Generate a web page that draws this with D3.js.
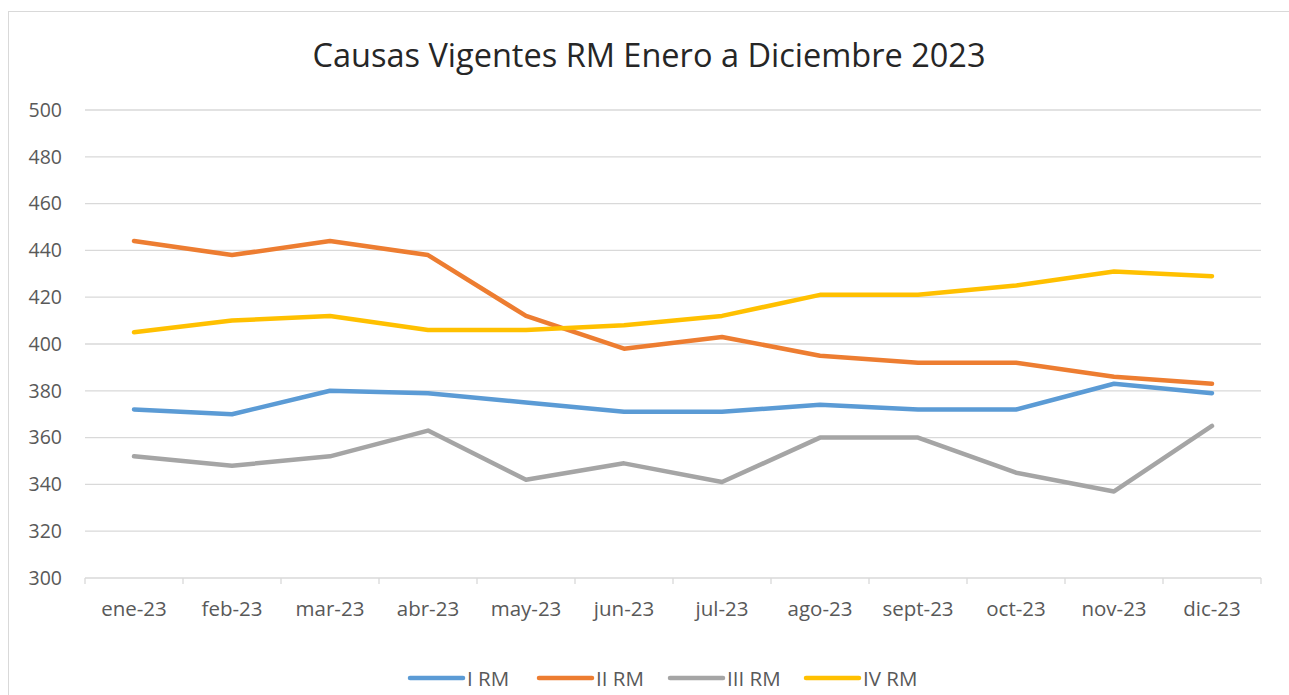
<!DOCTYPE html>
<html>
<head>
  <meta charset="utf-8">
  <title>Causas Vigentes RM</title>
  <style>
    * { padding: 0; margin: 0; }
    body { background: #fff; width: 1289px; height: 695px; overflow: hidden; }
    text { font-family: "Open Sans", "Liberation Sans", sans-serif; }
  </style>
</head>
<body>
  <svg id="svg"></svg>
  <script src="https://cdnjs.cloudflare.com/ajax/libs/d3/7.8.5/d3.min.js"></script>
  <script>
    const months = ['ene-23', 'feb-23', 'mar-23', 'abr-23', 'may-23', 'jun-23', 'jul-23', 'ago-23', 'sept-23', 'oct-23', 'nov-23', 'dic-23'];
    const seriesNames = ['I RM', 'II RM', 'III RM', 'IV RM'];
    const seriesColors = ['#5b9bd5', '#ed7d31', '#a5a5a5', '#ffc000'];
    const iRM = [372, 370, 380, 379, 375, 371, 371, 374, 372, 372, 383, 379];
    const iiRM = [444, 438, 444, 438, 412, 398, 403, 395, 392, 392, 386, 383];
    const iiiRM = [352, 348, 352, 363, 342, 349, 341, 360, 360, 345, 337, 365];
    const ivRM = [405, 410, 412, 406, 406, 408, 412, 421, 421, 425, 431, 429];
    const yTicks = [300, 320, 340, 360, 380, 400, 420, 440, 460, 480, 500];

    const series = [iRM, iiRM, iiiRM, ivRM].map((values, i) => ({
      name: seriesNames[i], color: seriesColors[i], values
    }));

    const dim = { width: 1289, height: 695, left: 85, right: 1261, top: 110, bottom: 578 };

    const svg = d3.select('#svg').attr('width', dim.width).attr('height', dim.height);

    // chart frame
    svg.append('rect')
      .attr('x', 8.5).attr('y', 11.5)
      .attr('width', 1300).attr('height', 700)
      .attr('fill', 'none').attr('stroke', '#d9d9d9');

    svg.append('text')
      .attr('x', 649).attr('y', 67)
      .attr('text-anchor', 'middle')
      .attr('fill', '#262626')
      .style('font-size', '32.5px')
      .text('Causas Vigentes RM Enero a Diciembre 2023');

    const xScale = d3.scaleBand().domain(months).range([dim.left, dim.right]);
    const yScale = d3.scaleLinear().domain([300, 500]).range([dim.bottom, dim.top]);

    // gridlines
    svg.append('g')
      .selectAll('line')
      .data(yTicks.slice(1))
      .enter()
      .append('line')
      .attr('x1', dim.left).attr('x2', dim.right)
      .attr('y1', d => yScale(d)).attr('y2', d => yScale(d))
      .attr('stroke', '#d9d9d9').attr('stroke-width', 1.3);

    const yAxis = d3.axisLeft(yScale).tickValues(yTicks).tickSize(0).tickPadding(23);
    const yG = svg.append('g').attr('transform', `translate(${dim.left}, 0)`).call(yAxis);
    yG.select('.domain').remove();
    yG.selectAll('text').attr('fill', '#595959').style('font-size', '19.5px')
      .style('font-family', '"Open Sans", "Liberation Sans", sans-serif');

    // x axis with ticks at band edges
    const xG = svg.append('g').attr('transform', `translate(0, ${dim.bottom})`);
    xG.append('line')
      .attr('x1', dim.left).attr('x2', dim.right)
      .attr('stroke', '#d9d9d9').attr('stroke-width', 1.3);
    xG.selectAll('.edge')
      .data(months.concat(['end']))
      .enter()
      .append('line')
      .attr('class', 'edge')
      .attr('x1', (d, i) => i < months.length ? xScale(d) : dim.right)
      .attr('x2', (d, i) => i < months.length ? xScale(d) : dim.right)
      .attr('y1', 0).attr('y2', 6)
      .attr('stroke', '#d9d9d9').attr('stroke-width', 1.3);
    xG.selectAll('.lbl')
      .data(months)
      .enter()
      .append('text')
      .attr('x', d => xScale(d) + xScale.bandwidth() / 2)
      .attr('y', 38)
      .attr('text-anchor', 'middle')
      .attr('fill', '#595959')
      .style('font-size', '20.5px')
      .text(d => d);

    const line = d3.line()
      .x((d, i) => xScale(months[i]) + xScale.bandwidth() / 2)
      .y(d => yScale(d));

    svg.append('g')
      .selectAll('path')
      .data(series)
      .enter()
      .append('path')
      .attr('d', d => line(d.values))
      .attr('fill', 'none')
      .attr('stroke', d => d.color)
      .attr('stroke-width', 4.5)
      .attr('stroke-linecap', 'round')
      .attr('stroke-linejoin', 'round');

    // legend
    const legendX = [410, 539, 670, 806];
    const lg = svg.append('g').selectAll('g')
      .data(series)
      .enter()
      .append('g')
      .attr('transform', (d, i) => `translate(${legendX[i]}, 678)`);
    lg.append('line')
      .attr('x1', 0).attr('x2', 53)
      .attr('stroke', d => d.color)
      .attr('stroke-width', 4.5)
      .attr('stroke-linecap', 'round');
    lg.append('text')
      .attr('x', 57).attr('y', 7.5)
      .attr('fill', '#595959')
      .style('font-size', '20.5px')
      .text(d => d.name);
  </script>
</body>
</html>
